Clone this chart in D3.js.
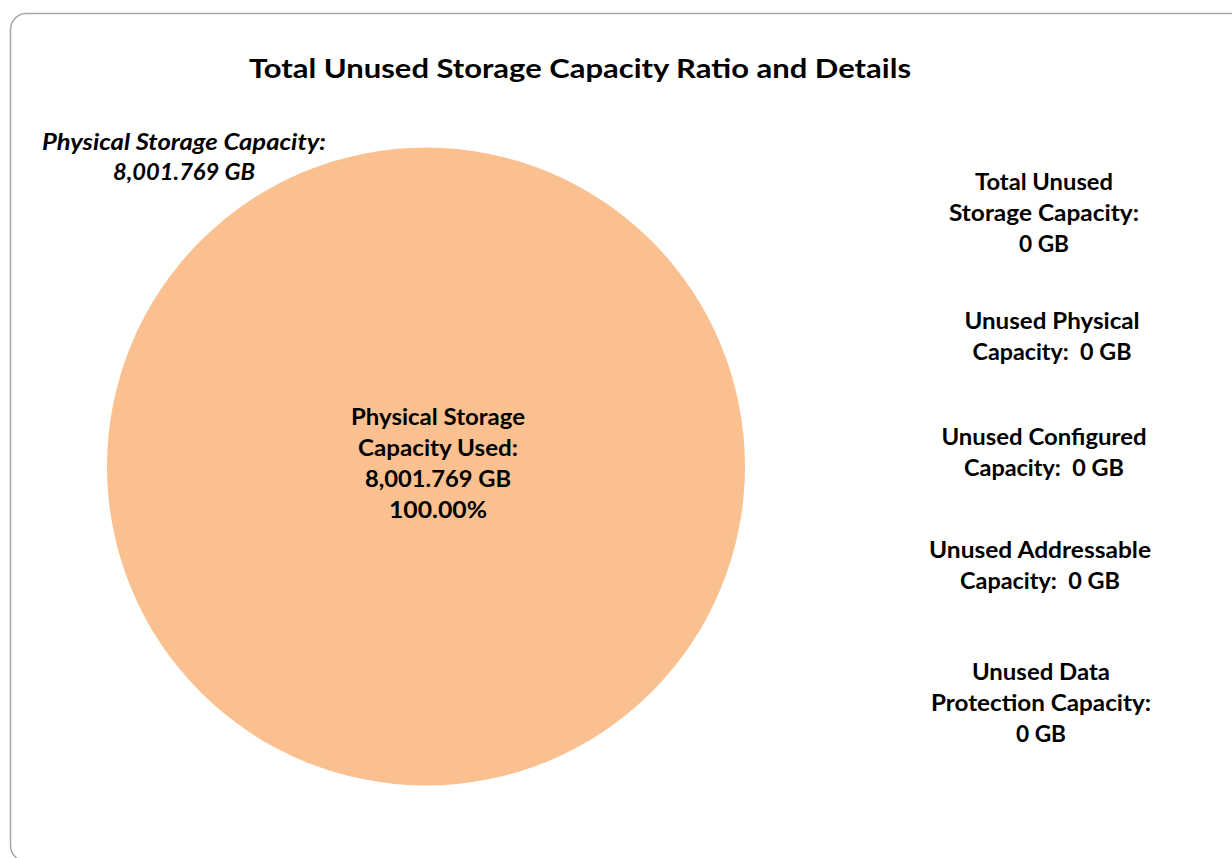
<!DOCTYPE html>
<html lang="en">
<head>
  <meta charset="UTF-8">
  <title>Total Unused Storage Capacity Ratio and Details</title>
  <script src="https://d3js.org/d3.v7.min.js"></script>
  <style>
    body { margin: 0; background: #ffffff; }
    text { font-family: Lato, "Open Sans", sans-serif; font-weight: bold; fill: #000; white-space: pre; }
  </style>
</head>
<body>
<script>
// chart data
var categories = ["Physical Storage Capacity Used", "Total Unused Storage Capacity", "Unused Physical Capacity",
                  "Unused Configured Capacity", "Unused Addressable Capacity", "Unused Data Protection Capacity"];
var values = [8001.769, 0, 0, 0, 0, 0];
var units = "GB";
var totalLabel = ["Physical Storage Capacity:", "8,001.769 GB"];
var usedLabel = ["Physical Storage", "Capacity Used:", "8,001.769 GB", "100.00%"];
var unusedLabels = [
  ["Total Unused", "Storage Capacity:", "0 GB"],
  ["Unused Physical", "Capacity:  0 GB"],
  ["Unused Configured", "Capacity:  0 GB"],
  ["Unused Addressable", "Capacity:  0 GB"],
  ["Unused Data", "Protection Capacity:", "0 GB"]
];

var W = 1232, H = 858;
var svg = d3.select("body").append("svg")
  .attr("width", W)
  .attr("height", H);

// frame
svg.append("rect")
  .attr("x", 10.5).attr("y", 13.5)
  .attr("width", 1240).attr("height", 848)
  .attr("rx", 16).attr("ry", 16)
  .attr("fill", "#fff")
  .attr("stroke", "#a6a6a6")
  .attr("stroke-width", 1.5);

// title
svg.append("text")
  .attr("x", 580).attr("y", 78)
  .attr("text-anchor", "middle")
  .attr("font-size", 27)
  .attr("textLength", 662)
  .attr("lengthAdjust", "spacingAndGlyphs")
  .text("Total Unused Storage Capacity Ratio and Details");

// pie
var cx = 426, cy = 466.5, radius = 319;
var colors = d3.scaleOrdinal()
  .domain(categories)
  .range(["#FAC090", "#8EB4E3", "#C3D69B", "#B3A2C7", "#93CDDD", "#D99694"]);

var pie = d3.pie().sort(null).value(function(d) { return d.value; });
var arc = d3.arc().innerRadius(0).outerRadius(radius);
var rows = categories.map(function(c, i) { return { name: c, value: values[i] }; });

var g = svg.append("g").attr("transform", "translate(" + cx + "," + cy + ")");
g.selectAll("path")
  .data(pie(rows).filter(function(d) { return d.data.value > 0; }))
  .enter().append("path")
  .attr("d", arc)
  .attr("fill", function(d) { return colors(d.data.name); });

function multiLine(lines, x, y0, step, size, italic, widths) {
  var t = svg.append("g");
  lines.forEach(function(s, i) {
    var el = t.append("text")
      .attr("x", x).attr("y", y0 + i * step)
      .attr("text-anchor", "middle")
      .attr("font-size", size)
      .style("font-style", italic ? "italic" : "normal")
      .text(s);
    if (widths && widths[i]) {
      el.attr("textLength", widths[i]).attr("lengthAdjust", "spacingAndGlyphs");
    }
  });
}

// total capacity label (outside, italic)
multiLine(totalLabel, 184, 150, 30, 23, true, [284, 142]);

// used label in pie centre
multiLine(usedLabel, 438, 425, 31, 23, false, [174, 160, 146, 98]);

// unused (zero) slices listed on the right
var rightX = [1044, 1052, 1044, 1040, 1041];
var rightY = [190, 329, 445, 558, 680];
var rightW = [
  [138, 190, 50],
  [175, 159],
  [205, 160],
  [222, 160],
  [138, 220, 50]
];
unusedLabels.forEach(function(lines, i) {
  multiLine(lines, rightX[i], rightY[i], 31, 23, false, rightW[i]);
});
</script>
</body>
</html>
